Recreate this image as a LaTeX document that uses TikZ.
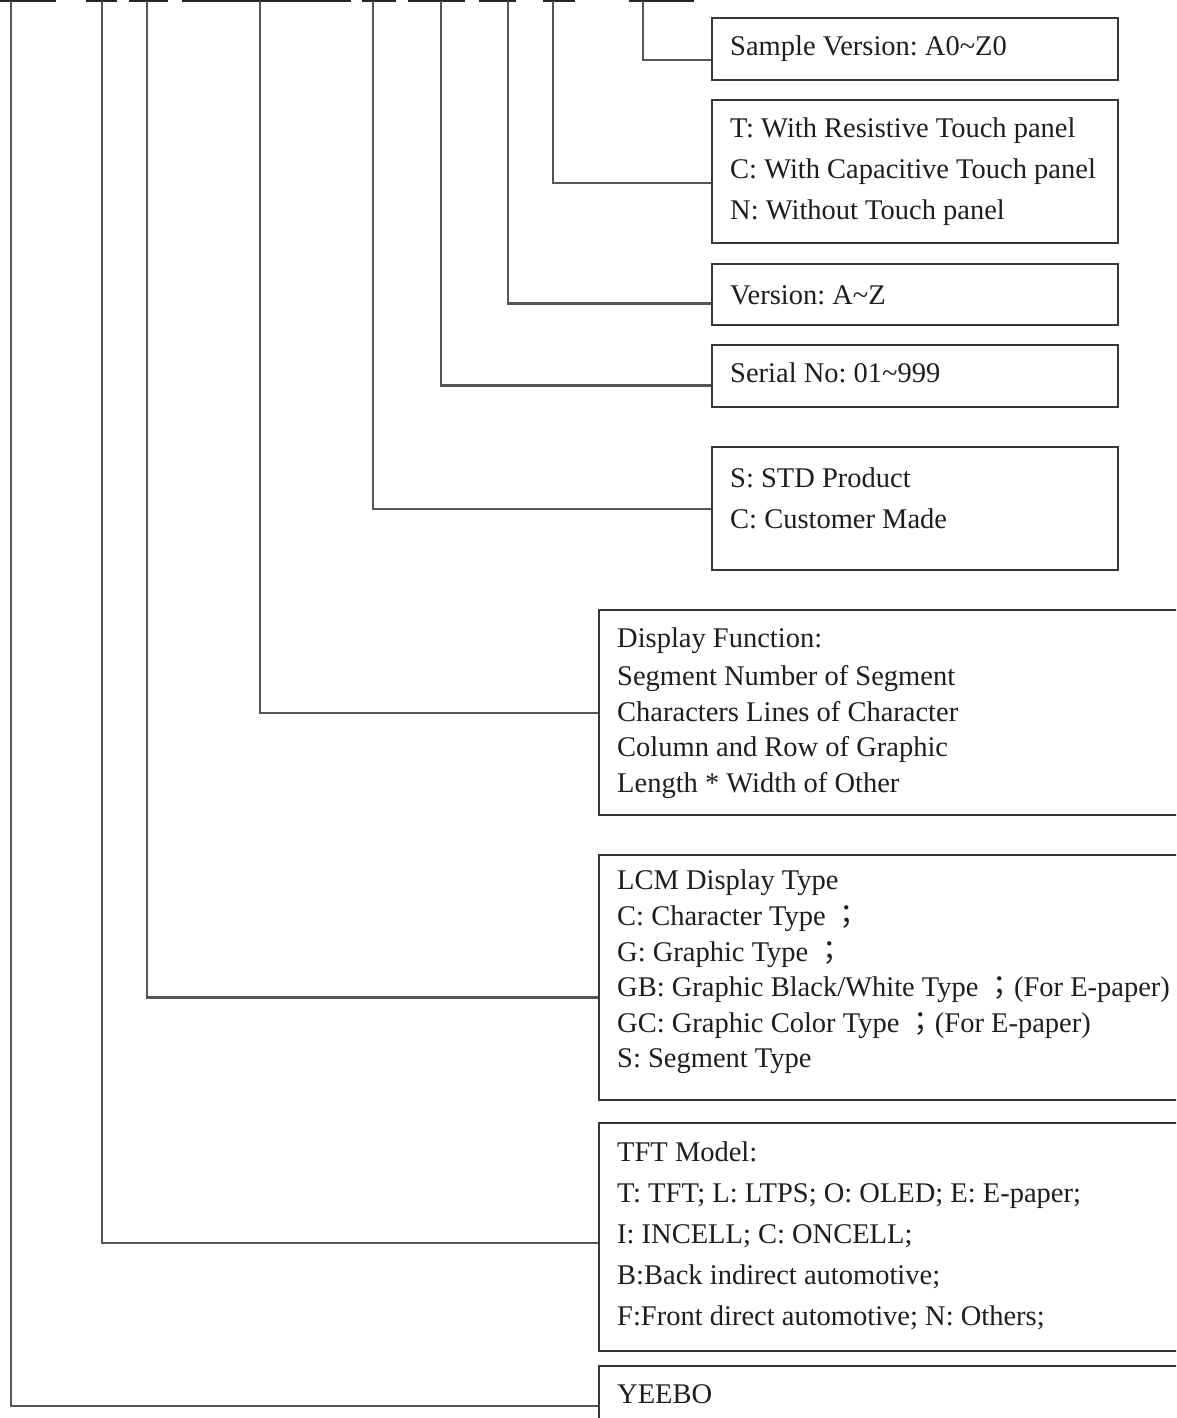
\documentclass[tikz,border=0pt]{standalone}
\usepackage{fontspec}
\setmainfont{Liberation Serif}
\newfontfamily\cjk{Noto Sans CJK TC}
\usetikzlibrary{calc}
\definecolor{boxc}{RGB}{55,55,55}
\definecolor{linec}{RGB}{85,85,85}
\definecolor{txtc}{RGB}{30,30,30}
\newcommand{\fsemi}{{\cjk ；}}
\frenchspacing
\begin{document}
\begin{tikzpicture}[x=1pt,y=-1pt,
  boxnode/.style={draw=boxc,line width=2.3pt,fill=none,inner sep=0pt,anchor=north west},
  txt/.style={anchor=west,inner sep=0pt,align=left,text=txtc,font=\fontsize{28.5}{41}\selectfont\frenchspacing},
  txtb/.style={txt,font=\fontsize{28.5}{35.6}\selectfont\frenchspacing},
  conn/.style={draw=linec,line width=2.2pt},
  dashbar/.style={draw=black!85,line width=3.4pt}]
\clip (0,0) rectangle (1176,1418);
\fill[white] (0,0) rectangle (1176,1418);
% top code bars
\foreach \a/\b in {0/56,86/117,129/168,182/351,362/396,408/465,479/516,543/575,629/694}
  \draw[dashbar] (\a,0.5) -- (\b,0.5);
% tops of the connectors
\coordinate (t9) at (11,1);
\coordinate (t8) at (102,1);
\coordinate (t7) at (147,1);
\coordinate (t6) at (260,1);
\coordinate (t5) at (373,1);
\coordinate (t4) at (441,1);
\coordinate (t3) at (508,1);
\coordinate (t2) at (553,1);
\coordinate (t1) at (643,1);
% boxes
\node[boxnode,minimum width=406pt,minimum height=62pt] (b1) at (711,17) {};
\node[boxnode,minimum width=406pt,minimum height=143pt] (b2) at (711,99) {};
\node[boxnode,minimum width=406pt,minimum height=61pt] (b3) at (711,263) {};
\node[boxnode,minimum width=406pt,minimum height=62pt] (b4) at (711,344) {};
\node[boxnode,minimum width=406pt,minimum height=123pt] (b5) at (711,446) {};
\node[boxnode,minimum width=620pt,minimum height=205pt] (b6) at (598,609) {};
\node[boxnode,minimum width=620pt,minimum height=245pt] (b7) at (598,854) {};
\node[boxnode,minimum width=620pt,minimum height=228pt] (b8) at (598,1122) {};
\node[boxnode,minimum width=620pt,minimum height=100pt] (b9) at (598,1365) {};
% texts
\node[txt] (x1) at (730,49) {Sample Version: A0\textasciitilde Z0};
\node[txt] (x2) at (730,172) {T: With Resistive Touch panel\\C: With Capacitive Touch panel\\N: Without Touch panel};
\node[txt] (x3) at (730,295) {Version: A\textasciitilde Z};
\node[txt] (x4) at (730,373) {Serial No: 01\textasciitilde 999};
\node[txt] (x5) at (730,498) {S: STD Product\\C: Customer Made};
\node[txtb] (x6) at (617,713) {Display Function:\\[3pt]Segment Number of Segment\\Characters Lines of Character\\Column and Row of Graphic\\Length * Width of Other};
\node[txtb] (x7) at (617,972) {LCM Display Type\\C: Character Type \fsemi\\G: Graphic Type \fsemi\\GB: Graphic Black/White Type \fsemi(For E-paper)\\GC: Graphic Color Type \fsemi(For E-paper)\\S: Segment Type};
\node[txt] (x8) at (617,1236) {TFT Model:\\T: TFT; L: LTPS; O: OLED; E: E-paper;\\I: INCELL; C: ONCELL;\\B:Back indirect automotive;\\F:Front direct automotive; N: Others;};
\node[txt] (x9) at (617,1394) {YEEBO};
% connectors
\draw[conn] (t1) |- ($(b1.north west)!0.67!(b1.south west)$);
\draw[conn] (t2) |- ($(b2.north west)!0.576!(b2.south west)$);
\draw[conn] (t3) |- ($(b3.north west)!0.64!(b3.south west)$);
\draw[conn] (t4) |- ($(b4.north west)!0.645!(b4.south west)$);
\draw[conn] (t5) |- ($(b5.north west)!0.50!(b5.south west)$);
\draw[conn] (t6) |- ($(b6.north west)!0.50!(b6.south west)$);
\draw[conn] (t7) |- ($(b7.north west)!0.58!(b7.south west)$);
\draw[conn] (t8) |- ($(b8.north west)!0.526!(b8.south west)$);
\draw[conn] (t9) |- ($(b9.north west)!0.40!(b9.south west)$);
\end{tikzpicture}
\end{document}
